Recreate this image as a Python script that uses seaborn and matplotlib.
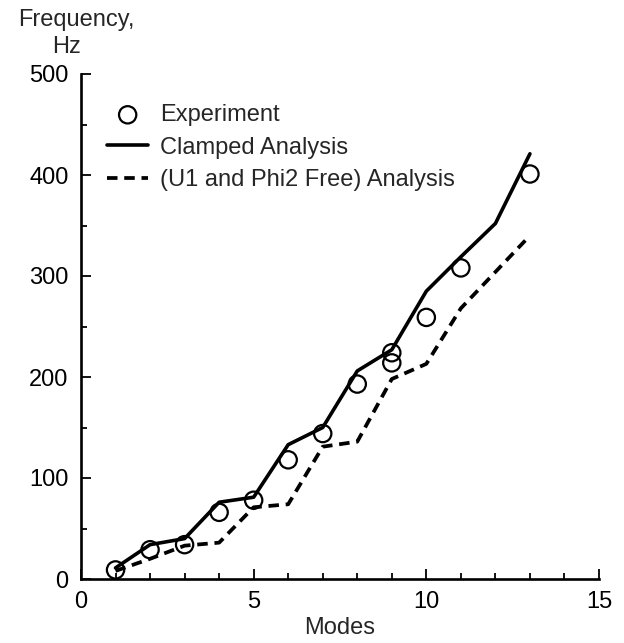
import matplotlib
matplotlib.use("Agg")
import matplotlib.pyplot as plt
from matplotlib.ticker import MultipleLocator
import seaborn as sns
import pandas as pd

# Data
exp_modes = [1, 2, 3, 4, 5, 6, 7, 8, 9, 9, 10, 11, 13]
exp_freq = [9, 29, 34, 66, 78, 118, 144, 193, 224, 214, 259, 308, 401]
modes = [1, 2, 3, 4, 5, 6, 7, 8, 9, 10, 11, 12, 13]
clamped = [11, 34, 40, 76, 81, 133, 150, 206, 227, 285, 319, 352, 421]
free = [8, 20, 33, 36, 71, 74, 131, 136, 198, 213, 268, 304, 340]
x_ticks = [0, 5, 10, 15]
y_ticks = [0, 100, 200, 300, 400, 500]

sns.set_theme(style="ticks")
plt.rcParams['font.family'] = ['Liberation Sans', 'DejaVu Sans']

FS = 17

fig = plt.figure(figsize=(6.24, 6.43), dpi=100)
ax = fig.add_axes([81/624, 1-579/643, (599-81)/624, (579-74)/643])

df_exp = pd.DataFrame({"Modes": exp_modes, "Freq": exp_freq})
df_line = pd.DataFrame({"Modes": modes, "Clamped": clamped, "Free": free})

sns.lineplot(data=df_line, x="Modes", y="Clamped", ax=ax, color="black",
             linewidth=2.6, label="Clamped Analysis", zorder=3)
sns.lineplot(data=df_line, x="Modes", y="Free", ax=ax, color="black",
             linewidth=2.7, linestyle=(0, (2.8, 1.8)),
             label="(U1 and Phi2 Free) Analysis", zorder=3)
sns.scatterplot(data=df_exp, x="Modes", y="Freq", ax=ax, marker="o", s=155,
                facecolor="none", edgecolor="black", linewidth=1.6,
                label="Experiment", zorder=4)

ax.set_xlim(0, 15)
ax.set_ylim(0, 500)
ax.set_xticks(x_ticks)
ax.set_yticks(y_ticks)
ax.xaxis.set_minor_locator(MultipleLocator(1))
ax.yaxis.set_minor_locator(MultipleLocator(50))
ax.tick_params(which="both", direction="in", width=1.3, colors="black",
               labelsize=FS, pad=9)
ax.tick_params(which="major", length=7)
ax.tick_params(which="minor", length=4.5)
ax.tick_params(axis="x", pad=9)
for side in ["top", "right"]:
    ax.spines[side].set_visible(False)
for side in ["left", "bottom"]:
    ax.spines[side].set_linewidth(1.9)
    ax.spines[side].set_color("black")
ax.set_xlabel("")
ax.set_ylabel("")

fig.text(340/624, 1-628/643, "Modes", ha="center", va="center", fontsize=FS)
fig.text(76/624, 1-20/643, "Frequency,", ha="center", va="center", fontsize=FS)
fig.text(66/624, 1-47/643, "Hz", ha="center", va="center", fontsize=FS)

handles, labels = ax.get_legend_handles_labels()
order = [labels.index("Experiment"), labels.index("Clamped Analysis"),
         labels.index("(U1 and Phi2 Free) Analysis")]
leg = ax.legend([handles[i] for i in order], [labels[i] for i in order],
                loc="upper left", bbox_to_anchor=(107/624, 1-104/643),
                bbox_transform=fig.transFigure, frameon=False, fontsize=FS,
                handlelength=1.75, handletextpad=0.5, labelspacing=0.45,
                borderpad=0, borderaxespad=0)

fig.savefig("out.png", dpi=100, facecolor="white")
